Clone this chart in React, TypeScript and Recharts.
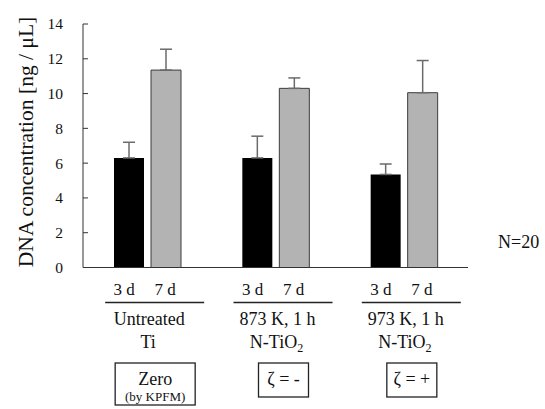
import React from 'react';
import { BarChart, Bar, XAxis, YAxis, ErrorBar } from 'recharts';

// values
const groupNames = ['Untreated', '873 K, 1 h', '973 K, 1 h'];
const groupSubNames = ['Ti', 'N-TiO_2', 'N-TiO_2'];
const zetaLabels = ['Zero', 'ζ = -', 'ζ = +'];
const zetaNotes = ['(by KPFM)', '', ''];
const dayLabels = ['3 d', '7 d'];
const day3Values = [6.3, 6.3, 5.35];
const day3Errors = [0.9, 1.25, 0.6];
const day7Values = [11.35, 10.3, 10.05];
const day7Errors = [1.2, 0.6, 1.85];
const yTicks = [0, 2, 4, 6, 8, 10, 12, 14];

const data = groupNames.map((name, i) => ({
  name,
  d3: day3Values[i],
  d3Err: [0, day3Errors[i]],
  d7: day7Values[i],
  d7Err: [0, day7Errors[i]],
}));

const FONT = '"Liberation Serif", "Times New Roman", serif';

// renders "N-TiO_2" with a real subscript
const withSub = (s: string) => {
  const [main, sub] = s.split('_');
  return (
    <>
      {main}
      {sub && (
        <tspan fontSize={12} dy={4}>
          {sub}
        </tspan>
      )}
    </>
  );
};

const YTick = ({ x, y, payload }: any) => (
  <g>
    <line x1={x} x2={x + 5} y1={y} y2={y} stroke="#333" />
    <text
      x={x - 20}
      y={y}
      dy="0.35em"
      textAnchor="end"
      style={{ fontFamily: FONT, fontSize: 15.5 }}
      fill="#111"
    >
      {payload.value}
    </text>
  </g>
);

const GroupTick = ({ x, y, payload }: any) => {
  const i = payload.index;
  const note = zetaNotes[i];
  const boxW = note ? 80 : 50;
  const boxH = note ? 42 : 34;
  const bx = x + 8;
  return (
    <g style={{ fontFamily: FONT }} fill="#111">
      <text x={x - 23} y={y + 27.5} textAnchor="middle" fontSize={17}>{dayLabels[0]}</text>
      <text x={x + 18} y={y + 27.5} textAnchor="middle" fontSize={17}>{dayLabels[1]}</text>
      <line x1={x - 42} x2={x + 57} y1={y + 35} y2={y + 35} stroke="#222" strokeWidth={1.3} />
      <text x={x + 2} y={y + 57.5} textAnchor="middle" fontSize={18}>{payload.value}</text>
      <text x={x + 1} y={y + 80.5} textAnchor="middle" fontSize={18}>{withSub(groupSubNames[i])}</text>
      <rect x={bx - boxW / 2} y={y + 95.5} width={boxW} height={boxH} fill="none" stroke="#222" strokeWidth={1.3} />
      <text x={bx} y={y + 117.5} textAnchor="middle" fontSize={18}>{zetaLabels[i]}</text>
      {note && (
        <text x={bx} y={y + 133.5} textAnchor="middle" fontSize={13}>{note}</text>
      )}
    </g>
  );
};

export default function App() {
  return (
    <div style={{ position: 'absolute', left: 0, top: 0, width: 545, height: 409, background: '#fff' }}>
      <BarChart
        width={545}
        height={409}
        data={data}
        margin={{ top: 24, right: 77, left: 0, bottom: 0 }}
        barSize={30}
        barGap={7}
      >
        <XAxis
          dataKey="name"
          height={141.5}
          tickLine={false}
          tickSize={0}
          tickMargin={0}
          axisLine={{ stroke: '#333' }}
          tick={<GroupTick />}
          interval={0}
        />
        <YAxis
          width={83}
          domain={[0, 14]}
          ticks={yTicks}
          tickLine={false}
          tickSize={0}
          tickMargin={0}
          axisLine={{ stroke: '#333' }}
          tick={<YTick />}
          interval={0}
        />
        <Bar dataKey="d3" fill="#000" isAnimationActive={false}>
          <ErrorBar dataKey="d3Err" width={6} stroke="#6b6b6b" strokeWidth={1.5} direction="y" />
        </Bar>
        <Bar dataKey="d7" fill="#b3b3b3" stroke="#3c3c3c" strokeWidth={1} isAnimationActive={false}>
          <ErrorBar dataKey="d7Err" width={6} stroke="#6b6b6b" strokeWidth={1.5} direction="y" />
        </Bar>
      </BarChart>
      <svg width={545} height={409} style={{ position: 'absolute', left: 0, top: 0, pointerEvents: 'none' }}>
        <text
          transform="translate(26,142) rotate(-90)"
          textAnchor="middle"
          dominantBaseline="central"
          style={{ fontFamily: FONT, fontSize: 21.5 }}
          fill="#111"
        >
          DNA concentration [ng / μL]
        </text>
        <text x={498} y={248} style={{ fontFamily: FONT, fontSize: 18 }} fill="#111">
          N=20
        </text>
      </svg>
    </div>
  );
}
